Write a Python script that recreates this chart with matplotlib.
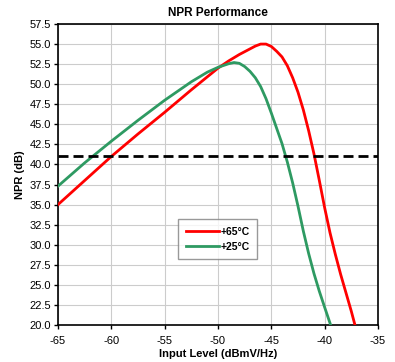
import matplotlib
matplotlib.use("Agg")
import matplotlib.pyplot as plt
from matplotlib.ticker import MultipleLocator, FormatStrFormatter

plt.rcParams['font.family'] = ['Liberation Sans', 'DejaVu Sans']
plt.rcParams['axes.unicode_minus'] = False

title = "NPR Performance"
xlabel = "Input Level (dBmV/Hz)"
ylabel = "NPR (dB)"
spec_level = 41.0

red_label = "+65°C"
red_x = [-65.0, -62.5, -60.0, -57.5, -55.0, -52.5, -50.0, -49.0, -48.0, -47.0, -46.5,
         -46.0, -45.5, -45.0, -44.5, -44.0, -43.5, -43.0, -42.5, -42.0, -41.5,
         -41.0, -40.5, -40.0, -39.5, -39.0, -38.5, -38.0, -37.5, -37.16]
red_y = [35.0, 38.0, 41.0, 43.8, 46.5, 49.3, 52.0, 52.9, 53.7, 54.4, 54.75,
         55.0, 55.0, 54.7, 54.1, 53.4, 52.3, 50.8, 49.0, 46.8, 44.2,
         41.3, 38.0, 34.6, 31.5, 28.8, 26.3, 24.0, 21.7, 20.0]

green_label = "+25°C"
green_x = [-65.0, -62.5, -60.0, -57.5, -55.0, -52.5, -51.0, -50.0, -49.0, -48.5, -48.0,
           -47.5, -47.0, -46.5, -46.0, -45.5, -45.0, -44.5, -44.0, -43.5, -43.0,
           -42.5, -42.0, -41.5, -41.0, -40.5, -40.0, -39.44]
green_y = [37.3, 40.2, 42.9, 45.5, 48.0, 50.3, 51.5, 52.1, 52.55, 52.7, 52.6,
           52.2, 51.6, 50.8, 49.7, 48.2, 46.4, 44.5, 42.6, 40.3, 37.7,
           34.8, 31.7, 28.9, 26.4, 24.2, 22.2, 20.0]

fig = plt.figure(figsize=(3.95, 3.62), dpi=100)
ax = fig.add_axes([58/395, 1-325/362, 320/395, 301/362])

ax.plot(red_x, red_y, color='#FF0000', lw=2.0, label=red_label, zorder=3,
        solid_joinstyle='round')
ax.plot(green_x, green_y, color='#2E9A62', lw=2.0, label=green_label, zorder=3,
        solid_joinstyle='round')
ax.axhline(spec_level, color='black', lw=2.0, dashes=(3.6, 1.8), zorder=4)

ax.set_xlim(-65, -35)
ax.set_ylim(20, 57.5)
ax.xaxis.set_major_locator(MultipleLocator(5))
ax.yaxis.set_major_locator(MultipleLocator(2.5))
ax.yaxis.set_major_formatter(FormatStrFormatter('%.1f'))
ax.grid(True, color='#CCCCCC', lw=0.8, zorder=0)
ax.set_axisbelow(True)
for s in ax.spines.values():
    s.set_linewidth(1.2)
    s.set_color('black')
ax.tick_params(axis='both', labelsize=8, length=3, width=1, direction='out', pad=2)
ax.tick_params(axis='x', pad=5)

ax.set_title(title, fontsize=8.5, fontweight='bold', pad=6)
ax.set_xlabel(xlabel, fontsize=8, fontweight='bold', labelpad=2)
ax.set_ylabel(ylabel, fontsize=8, fontweight='bold', labelpad=3)

leg = ax.legend(loc='upper left', bbox_to_anchor=((178-58)/320, 1-(219-24)/301),
                prop={'weight': 'bold', 'size': 7.5}, frameon=True, fancybox=False,
                edgecolor='#808080', handlelength=3.2, handletextpad=0.1,
                borderpad=0.75, labelspacing=0.45, borderaxespad=0)
leg.get_frame().set_linewidth(1.0)

fig.savefig('out.png', dpi=100)
